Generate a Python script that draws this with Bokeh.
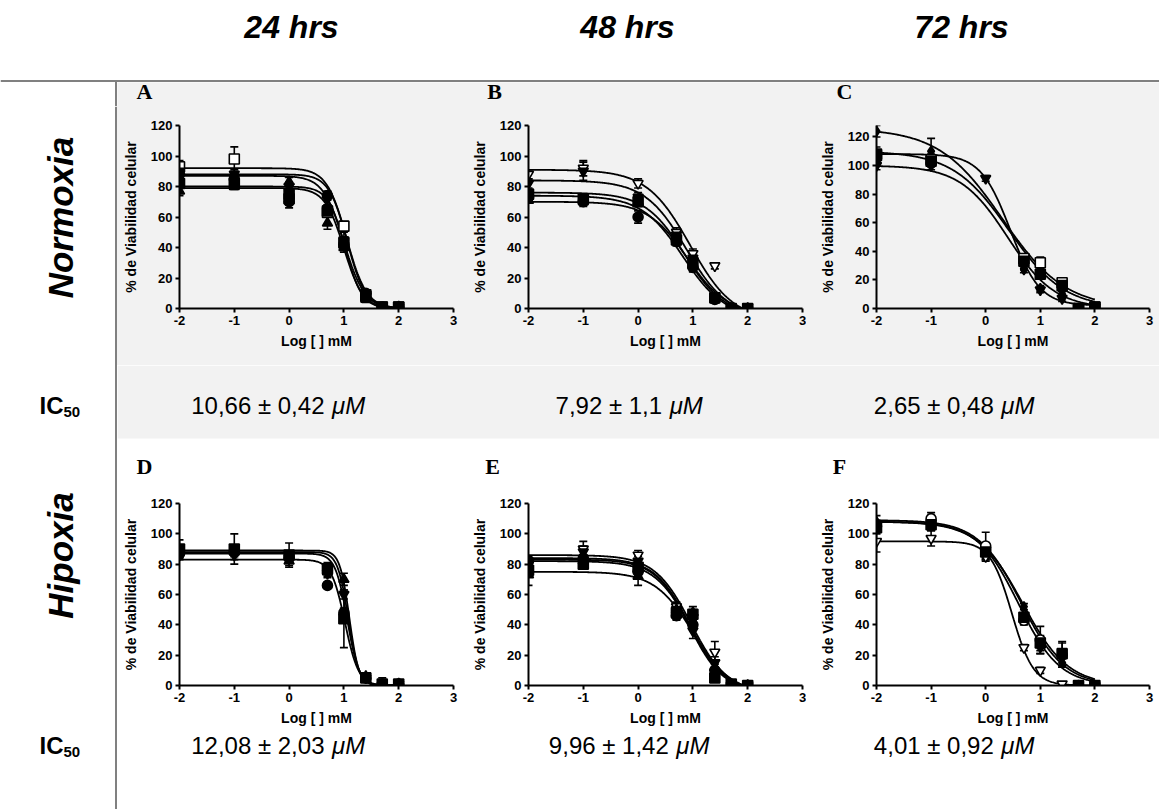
import numpy as np
from bokeh.plotting import figure
from bokeh.layouts import row, column
from bokeh.models import Range1d, FixedTicker, ColumnDataSource, Whisker, TeeHead
from bokeh.embed import file_html
from bokeh.resources import INLINE
from bokeh.core.properties import value

nan = float("nan")

# ---------------- data ----------------
DOSES = [-2, -1, 0, 0.7, 1, 1.4, 1.7, 2]
X_TICKS = [-2, -1, 0, 1, 2, 3]
Y_TICKS = [0, 20, 40, 60, 80, 100, 120]
X_LABEL = "Log [ ] mM"
Y_LABEL = "% de Viabilidad celular"
COLUMN_TITLES = ["24 hrs", "48 hrs", "72 hrs"]
ROW_TITLES = ["Normoxia", "Hipoxia"]
PANEL_LETTERS = ["A", "B", "C", "D", "E", "F"]
IC50_VALUES = ["10,66 ± 0,42", "7,92 ± 1,1", "2,65 ± 0,48",
               "12,08 ± 2,03", "9,96 ± 1,42", "4,01 ± 0,92"]
IC50_UNIT = "μM"

# markers: (marker, filled)
A_MARKERS = [("square", False), ("square", True), ("triangle", True), ("inverted_triangle", True), ("circle", True)]
A_MEANS = [[93, 98, 72, 63, 54, 9, 1, 1],
           [82, 82, 75, 64, 43, 8, 1, 1],
           [77, 80, 83, 56, 40, 6, 0, 1],
           [90, 88, 80, 72, 45, 8, 1, 1],
           [88, 85, 70, 74, 42, 10, 1, 1]]
A_SEM = [[4, 8, 4, 3, 3, 2, 1, 1],
         [3, 3, 6, 4, 4, 2, 1, 1],
         [3, 2, 3, 4, 3, 2, 1, 1],
         [4, 3, 3, 4, 5, 2, 1, 1],
         [3, 3, 4, 3, 4, 2, 1, 1]]
# fits: (top, bottom, logIC50, hill)
A_FITS = [(92, 0, 1.05, 2.4), (80, 0, 1.02, 2.8), (79, 0, 1.0, 2.5), (88, 0, 1.06, 2.6), (87, 0, 1.0, 2.3)]

B_MARKERS = [("inverted_triangle", False), ("inverted_triangle", True), ("square", True), ("circle", True), ("triangle", True)]
B_MEANS = [[88, 92, 82, 50, 36, 28, 0, 1],
           [82, 90, 73, 48, 33, 8, 0, 0],
           [75, 72, 70, 45, 30, 7, 0, 0],
           [73, 70, 60, 44, 27, 6, 0, 0],
           [71, 70, 70, 46, 28, 6, 0, 0]]
B_SEM = [[3, 5, 3, 3, 3, 2, 1, 1],
         [3, 6, 3, 3, 4, 2, 1, 1],
         [3, 3, 3, 3, 3, 2, 1, 1],
         [3, 3, 4, 3, 3, 2, 1, 1],
         [2, 2, 2, 2, 2, 2, 1, 1]]
B_FITS = [(91, -8, 0.95, 1.1), (84, -6, 0.88, 1.15), (76, -5, 0.85, 1.2), (74, -6, 0.82, 1.15), (70, -4, 0.9, 1.2)]

C_MARKERS = [("diamond", True), ("square", False), ("square", True), ("inverted_triangle", True)]
C_MEANS = [[124, 110, nan, 27, 14, 10, 0, 1],
           [108, 104, nan, 35, 32, 18, 0, 1],
           [107, 103, nan, 33, 24, 16, 0, 1],
           [100, 100, 91, 30, 13, 7, 0, 1]]
C_SEM = [[4, 9, 0, 2, 2, 2, 1, 1],
         [5, 4, 0, 2, 4, 3, 1, 1],
         [4, 4, 0, 2, 3, 4, 1, 1],
         [3, 3, 2, 2, 2, 2, 1, 1]]
C_FITS = [(126, 0, 0.3, 0.75), (110, 0, 0.42, 0.85), (100, 0, 0.4, 1.0), (108, 2, 0.45, 1.6)]

D_MARKERS = [("square", True), ("triangle", True), ("inverted_triangle", True), ("circle", True)]
D_MEANS = [[90, 90, 86, 77, 44, 5, 1, 1],
           [88, 88, 82, 75, 70, 6, 0, 1],
           [86, 86, 84, 74, 60, 5, 0, 1],
           [87, 88, 84, 66, 48, 5, 1, 1]]
D_SEM = [[6, 10, 8, 4, 19, 2, 4, 1],
         [3, 3, 3, 3, 4, 1, 1, 1],
         [3, 3, 3, 3, 3, 1, 1, 1],
         [2, 2, 2, 0, 3, 1, 1, 1]]
D_FITS = [(87, 0, 1.06, 4.0), (89, 0, 1.1, 5.0), (88, 0, 1.08, 4.5), (83, 0, 1.02, 3.5)]

E_MARKERS = [("inverted_triangle", False), ("inverted_triangle", True), ("square", True), ("triangle", True), ("circle", True)]
E_MEANS = [[82, 90, 86, 52, 45, 22, 0, 0],
           [80, 88, 82, 50, 36, 15, 0, 0],
           [76, 80, 78, 48, 47, 5, 1, 0],
           [73, 82, 72, 50, 48, 12, 0, 0],
           [82, 84, 75, 46, 40, 10, 0, 0]]
E_SEM = [[3, 5, 3, 3, 3, 7, 1, 1],
         [3, 4, 3, 3, 5, 4, 1, 1],
         [3, 2, 3, 3, 3, 2, 1, 1],
         [7, 2, 6, 3, 4, 2, 1, 1],
         [2, 2, 3, 3, 3, 2, 1, 1]]
E_FITS = [(86, -5, 0.97, 1.3), (84, -5, 0.95, 1.35), (83, -4, 0.93, 1.4), (82, -5, 0.96, 1.3), (75, -5, 1.0, 1.25)]

F_MARKERS = [("circle", False), ("diamond", True), ("inverted_triangle", False), ("square", True)]
F_MEANS = [[105, 110, 92, 43, 30, 20, 0, 0],
           [108, 105, 87, 52, 25, 15, 0, 0],
           [95, 97, 85, 25, 10, 1, 0, 0],
           [104, 106, 88, 45, 28, 21, 0, 0]]
F_SEM = [[4, 4, 9, 3, 9, 8, 1, 1],
         [4, 3, 3, 2, 4, 3, 1, 1],
         [7, 5, 3, 2, 2, 1, 1, 1],
         [4, 3, 5, 3, 5, 8, 1, 1]]
F_FITS = [(109, 0, 0.65, 1.1), (108, 0, 0.6, 1.15), (95, 0, 0.48, 2.2), (108, 0, 0.68, 1.05)]

# ---------------- styling ----------------
GREY_BG = "#f2f2f2"
RULE = "#808080"
SANS = "Liberation Sans"
SERIF = "Liberation Serif"

CHAR_W = {"0": .556, "1": .556, "2": .556, "3": .556, "4": .556, "5": .556, "6": .556,
          "7": .556, "8": .556, "9": .556, ",": .278, " ": .278, "±": .584, "μ": .576, "M": .833}


def text_w(s, size):
    return sum(CHAR_W.get(ch, 0.556) for ch in s) * size


def blank(width, height, bg="white"):
    p = figure(width=width, height=height, x_range=Range1d(0, width), y_range=Range1d(0, height),
               x_axis_type=None, y_axis_type=None, min_border=0, outline_line_color=None,
               background_fill_color=bg, border_fill_color=bg,
               output_backend="svg", toolbar_location=None)
    p.grid.visible = False
    return p


def letters(p, xs, ys, labels):
    p.text(x=xs, y=ys, text=labels, text_font=value(SERIF), text_font_size="22px",
           text_font_style="bold", text_align="center", text_baseline="middle", text_color="black")


def panel(means, sems, markers, fits, ymax, width, height, left, right, top, bottom, bg):
    p = figure(width=width, height=height, x_range=Range1d(-2, 3), y_range=Range1d(0, ymax),
               output_backend="svg", toolbar_location=None,
               min_border_left=left, min_border_right=right, min_border_top=top, min_border_bottom=bottom,
               background_fill_color=bg, border_fill_color=bg, outline_line_color=None)
    p.grid.visible = False
    xs = np.linspace(-2, 2, 300)
    for (tp, bt, c, h) in fits:
        ys = bt + (tp - bt) / (1 + 10 ** (h * (xs - c)))
        p.line(xs, ys, line_color="black", line_width=1.8)
    for m, s, (mk, filled) in zip(means, sems, markers):
        xx, yy, lo, hi = [], [], [], []
        for d, v, e in zip(DOSES, m, s):
            if v != v:
                continue
            xx.append(d); yy.append(v); lo.append(max(v - e, 0)); hi.append(v + e)
        src = ColumnDataSource(dict(x=xx, y=yy, lo=lo, hi=hi))
        p.add_layout(Whisker(base="x", lower="lo", upper="hi", source=src,
                             line_color="black", line_width=1.6,
                             upper_head=TeeHead(size=8, line_color="black", line_width=1.6),
                             lower_head=TeeHead(size=8, line_color="black", line_width=1.6)))
        p.scatter("x", "y", source=src, marker=mk, size=10, line_color="black", line_width=1.6,
                  fill_color="black" if filled else "white")
    p.xaxis.ticker = FixedTicker(ticks=X_TICKS)
    p.yaxis.ticker = FixedTicker(ticks=Y_TICKS)
    p.xaxis.major_label_overrides = {t: str(t) for t in X_TICKS}
    p.xaxis.axis_label = X_LABEL
    p.yaxis.axis_label = Y_LABEL
    for ax in (p.xaxis[0], p.yaxis[0]):
        ax.axis_line_width = 2
        ax.axis_line_color = "black"
        ax.major_tick_line_width = 2
        ax.major_tick_out = 4
        ax.major_tick_in = 0
        ax.minor_tick_out = 0
        ax.minor_tick_in = 0
        ax.major_label_text_font = SANS
        ax.major_label_text_font_style = "bold"
        ax.major_label_text_font_size = "13px"
        ax.major_label_text_color = "black"
        ax.axis_label_text_font = SANS
        ax.axis_label_text_font_style = "bold"
        ax.axis_label_text_font_size = "14px"
        ax.axis_label_text_color = "black"
        ax.major_label_standoff = 3
    p.xaxis.axis_label_standoff = 5
    p.yaxis.axis_label_standoff = 9
    return p


def ic_texts(p, values, cy, centers):
    size = 24
    xn, xu = [], []
    for v, xc in zip(values, centers):
        wn = text_w(v, size)
        gap = text_w(" ", size)
        wu = text_w(IC50_UNIT, size)
        total = wn + gap + wu
        xn.append(xc - total / 2)
        xu.append(xc - total / 2 + wn + gap)
    p.text(x=xn, y=[cy] * 3, text=values, text_font=value(SANS), text_font_size=f"{size}px",
           text_align="left", text_baseline="middle", text_color="black")
    p.text(x=xu, y=[cy] * 3, text=[IC50_UNIT] * 3, text_font=value(SANS), text_font_size=f"{size}px",
           text_font_style="italic", text_align="left", text_baseline="middle", text_color="black")


IC_CENTERS = [161, 512, 837]

# ---------------- header (ref y 0..106) ----------------
header = blank(1159, 106)
header.quad(left=[117], right=[1159], bottom=[0], top=[24], fill_color=GREY_BG, line_color=None)
header.text(x=[291, 627, 961], y=[80, 80, 80], text=COLUMN_TITLES, text_font=value(SANS),
            text_font_size="32px", text_font_style="bold italic", text_align="center",
            text_baseline="middle", text_color="black")
header.segment(x0=[0], y0=[25.5], x1=[1159], y1=[25.5], line_color=RULE, line_width=2)
header.segment(x0=[115.5], y0=[0], x1=[115.5], y1=[25.5], line_color=RULE, line_width=2)
letters(header, [144, 494, 844], [15, 15, 15], PANEL_LETTERS[:3])

# ---------------- left column (ref y 106..809) ----------------
left = blank(117, 703)
left.segment(x0=[115.5], y0=[0], x1=[115.5], y1=[703], line_color=RULE, line_width=2)
left.text(x=[60, 60], y=[592, 254], text=ROW_TITLES, text_font=value(SANS), text_font_size="35px",
          text_font_style="bold italic", text_align="center", text_baseline="middle",
          angle=np.pi / 2, text_color="black")
left.text(x=[63, 63], y=[404, 64], text=["IC", "IC"], text_font=value(SANS), text_font_size="24px",
          text_font_style="bold", text_align="right", text_baseline="middle", text_color="black")
left.text(x=[63, 63], y=[398, 58], text=["50", "50"], text_font=value(SANS), text_font_size="15px",
          text_font_style="bold", text_align="left", text_baseline="middle", text_color="black")

# ---------------- normoxia panels (ref y 106..365) ----------------
pA = panel(A_MEANS, A_SEM, A_MARKERS, A_FITS, 120, 343, 259, 62, 7, 19, 57, GREY_BG)
pB = panel(B_MEANS, B_SEM, B_MARKERS, B_FITS, 120, 346, 259, 68, 4, 19, 57, GREY_BG)
pC = panel(C_MEANS, C_SEM, C_MARKERS, C_FITS, 128, 353, 259, 70, 10, 19, 57, GREY_BG)

# ---------------- IC50 normoxia + hypoxia letters (ref y 365..484) ----------------
ic1 = blank(1042, 119)
ic1.quad(left=[0], right=[1042], bottom=[46], top=[119], fill_color=GREY_BG, line_color=None)
ic_texts(ic1, IC50_VALUES[:3], 79, IC_CENTERS)
letters(ic1, [27, 375, 722], [18, 18, 18], PANEL_LETTERS[3:])

# ---------------- hypoxia panels (ref y 484..730) ----------------
pD = panel(D_MEANS, D_SEM, D_MARKERS, D_FITS, 120, 343, 246, 62, 7, 19, 45, "white")
pE = panel(E_MEANS, E_SEM, E_MARKERS, E_FITS, 120, 346, 246, 68, 4, 19, 45, "white")
pF = panel(F_MEANS, F_SEM, F_MARKERS, F_FITS, 120, 353, 246, 70, 10, 19, 45, "white")

# ---------------- IC50 hypoxia (ref y 730..809) ----------------
ic2 = blank(1042, 79)
ic_texts(ic2, IC50_VALUES[3:], 64, IC_CENTERS)

right = column(row(pA, pB, pC, styles={"background-color": GREY_BG}), ic1,
               row(pD, pE, pF), ic2)
layout = column(header, row(left, right))

open("out.html", "w").write(file_html(layout, INLINE))
